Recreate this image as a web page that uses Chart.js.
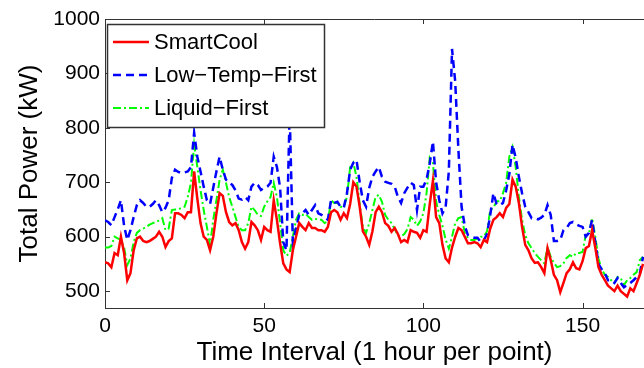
<!DOCTYPE html>
<html>
<head>
<meta charset="utf-8">
<script src="https://cdn.jsdelivr.net/npm/chart.js@4"></script>
<style>
  html, body { margin: 0; padding: 0; background: #fff; overflow: hidden; }
  #wrap { width: 644px; height: 368px; position: relative; }
</style>
</head>
<body>
<div id="wrap"><canvas id="power"></canvas></div>
<script>
// Valores (1 ponto por hora)
const seriesNames = ['SmartCool', 'Low\u2212Temp\u2212First', 'Liquid\u2212First'];

const smartCool = [
  553, 551, 544, 570, 566, 600, 570, 520, 533, 575, 597, 600, 592, 590, 592, 596, 600, 609, 600, 581,
  592, 597, 643, 643, 640, 634, 645, 645, 720, 670, 625, 600, 594, 575, 600, 643, 680, 675, 645, 627,
  621, 625, 612, 590, 578, 590, 627, 621, 612, 594, 618, 612, 609, 667, 631, 588, 551, 540, 535, 575,
  600, 625, 618, 612, 625, 616, 616, 612, 612, 609, 618, 645, 649, 645, 631, 643, 634, 660, 700, 692,
  655, 610, 600, 585, 610, 645, 655, 645, 625, 620, 609, 616, 605, 590, 594, 590, 612, 609, 607, 598,
  612, 609, 660, 703, 636, 625, 585, 560, 553, 580, 600, 616, 612, 600, 588, 588, 590, 588, 581, 594,
  590, 615, 631, 636, 643, 636, 653, 660, 705, 692, 662, 618, 585, 575, 560, 552, 553, 544, 533, 579,
  557, 530, 520, 498, 515, 533, 540, 553, 542, 540, 555, 579, 583, 612, 580, 544, 530, 520, 510, 505,
  500, 510, 500, 495, 490, 505, 500, 515, 530, 550
];

const lowTempFirst = [
  630, 627, 621, 636, 650, 667, 620, 594, 612, 636, 658, 667, 662, 655, 655, 660, 667, 658, 645, 653,
  667, 708, 723, 719, 717, 718, 720, 728, 791, 747, 720, 692, 667, 660, 690, 720, 747, 723, 705, 699,
  695, 685, 670, 668, 673, 667, 692, 699, 695, 686, 690, 692, 699, 747, 728, 690, 590, 575, 830, 590,
  615, 640, 643, 649, 640, 649, 658, 643, 640, 636, 631, 667, 662, 664, 655, 653, 680, 723, 736, 741,
  700, 667, 655, 690, 710, 720, 728, 710, 701, 699, 697, 692, 673, 662, 680, 690, 699, 695, 649, 692,
  692, 705, 735, 775, 700, 667, 643, 655, 720, 945, 885, 760, 655, 620, 603, 600, 598, 598, 590, 594,
  605, 640, 680, 660, 658, 662, 685, 715, 769, 745, 710, 680, 655, 645, 634, 634, 632, 635, 640, 658,
  640, 592, 592, 594, 612, 616, 625, 627, 623, 620, 618, 600, 607, 631, 590, 550, 540, 533, 520, 520,
  515, 524, 515, 507, 511, 515, 520, 526, 533, 563
];

const liquidFirst = [
  580, 580, 583, 600, 597, 594, 580, 548, 560, 590, 607, 612, 615, 618, 622, 625, 627, 630, 634, 612,
  615, 649, 650, 650, 653, 655, 673, 699, 770, 728, 686, 649, 618, 585, 631, 667, 705, 723, 699, 673,
  655, 636, 618, 612, 612, 625, 655, 649, 640, 638, 655, 665, 673, 699, 673, 625, 575, 565, 570, 600,
  631, 643, 640, 642, 636, 631, 633, 631, 631, 625, 628, 667, 662, 662, 655, 655, 673, 728, 736, 710,
  660, 618, 607, 625, 649, 673, 677, 664, 640, 631, 625, 614, 602, 600, 605, 614, 636, 631, 620, 628,
  643, 680, 745, 735, 665, 640, 620, 595, 578, 600, 625, 634, 636, 607, 597, 594, 594, 597, 600, 600,
  610, 649, 653, 665, 665, 680, 699, 747, 765, 728, 673, 631, 603, 588, 579, 570, 563, 557, 551, 581,
  563, 552, 544, 546, 551, 561, 566, 563, 570, 570, 572, 603, 605, 634, 600, 560, 540, 530, 526, 520,
  515, 526, 524, 511, 520, 524, 530, 535, 557, 563
];

const timeTicks = [0, 50, 100, 150];
const powerTicks = [500, 600, 700, 800, 900, 1000];

const FONT = "'Liberation Sans', Arial, sans-serif";
const AXIS_COLOR = '#333';

const toPoints = (arr) => arr.map((v, i) => ({ x: i, y: v }));

// Caixa (topo) e marcas internas dos eixos, estilo MATLAB
const boxPlugin = {
    id: 'box',
    afterDatasetsDraw: (chart) => {
        const { ctx, chartArea, scales } = chart;
        ctx.save();
        ctx.strokeStyle = AXIS_COLOR;
        ctx.lineWidth = 1;
        ctx.beginPath();
        ctx.moveTo(chartArea.left, chartArea.top + 0.5);
        ctx.lineTo(chartArea.right, chartArea.top + 0.5);
        timeTicks.forEach(t => {
            const px = Math.round(scales.x.getPixelForValue(t)) + 0.5;
            ctx.moveTo(px, chartArea.bottom);
            ctx.lineTo(px, chartArea.bottom - 5);
            ctx.moveTo(px, chartArea.top);
            ctx.lineTo(px, chartArea.top + 5);
        });
        powerTicks.forEach(p => {
            const py = Math.round(scales.y.getPixelForValue(p)) + 0.5;
            ctx.moveTo(chartArea.left, py);
            ctx.lineTo(chartArea.left + 5, py);
        });
        ctx.stroke();
        ctx.restore();
    }
};

// Legenda dentro do gráfico, com fundo branco e borda
const legendPlugin = {
    id: 'boxLegend',
    afterDraw: (chart) => {
        const { ctx } = chart;
        const x = 107, y = 24, w = 217, h = 103;
        ctx.save();
        ctx.fillStyle = '#fff';
        ctx.fillRect(x, y, w, h);
        ctx.strokeStyle = AXIS_COLOR;
        ctx.lineWidth = 1.5;
        ctx.strokeRect(x + 0.5, y + 0.5, w, h);

        ctx.font = `22px ${FONT}`;
        ctx.textBaseline = 'middle';
        chart.data.datasets.forEach((ds, i) => {
            const cy = y + 18 + i * 33;
            ctx.beginPath();
            ctx.strokeStyle = ds.borderColor;
            ctx.lineWidth = ds.borderWidth;
            ctx.setLineDash(ds.borderDash || []);
            ctx.moveTo(x + 6, cy);
            ctx.lineTo(x + 42, cy);
            ctx.stroke();
            ctx.setLineDash([]);
            ctx.fillStyle = '#000';
            ctx.fillText(ds.label, x + 47, cy + 1);
        });
        ctx.restore();
    }
};

new Chart(document.getElementById('power'), {
    type: 'line',
    plugins: [boxPlugin, legendPlugin],
    data: {
        datasets: [
            {
                label: seriesNames[0],
                data: toPoints(smartCool),
                borderColor: '#ff0000',
                borderWidth: 2.5
            },
            {
                label: seriesNames[1],
                data: toPoints(lowTempFirst),
                borderColor: '#0000ff',
                borderWidth: 2.5,
                borderDash: [8, 5]
            },
            {
                label: seriesNames[2],
                data: toPoints(liquidFirst),
                borderColor: '#00ff00',
                borderWidth: 2,
                borderDash: [8, 3, 2, 3]
            }
        ]
    },
    options: {
        responsive: true,
        maintainAspectRatio: false,
        animation: false,
        layout: { padding: { top: 19, right: 0, left: 0, bottom: 0 } },
        elements: {
            point: { radius: 0 },
            line: { tension: 0, fill: false }
        },
        plugins: {
            legend: { display: false },
            tooltip: { enabled: false }
        },
        scales: {
            x: {
                type: 'linear',
                min: 0,
                max: 169.3,
                afterBuildTicks: (axis) => { axis.ticks = timeTicks.map(v => ({ value: v })); },
                afterFit: (axis) => { axis.height = 60; },
                grid: { drawOnChartArea: false, drawTicks: false },
                border: { color: AXIS_COLOR, width: 1 },
                ticks: {
                    color: '#000',
                    padding: 6,
                    maxRotation: 0,
                    callback: (value) => String(value),
                    font: { family: FONT, size: 21 }
                },
                title: {
                    display: true,
                    text: 'Time Interval (1 hour per point)',
                    color: '#000',
                    padding: { top: 0, bottom: 0 },
                    font: { family: FONT, size: 26 }
                }
            },
            y: {
                min: 469,
                max: 1000,
                afterBuildTicks: (axis) => { axis.ticks = powerTicks.map(v => ({ value: v })); },
                afterFit: (axis) => { axis.width = 105; },
                grid: { drawOnChartArea: false, drawTicks: false },
                border: { color: AXIS_COLOR, width: 1 },
                ticks: {
                    color: '#000',
                    padding: 5,
                    callback: (value) => String(value),
                    font: { family: FONT, size: 21 }
                },
                title: {
                    display: true,
                    text: 'Total Power (kW)',
                    color: '#000',
                    padding: { top: 14, bottom: 0 },
                    font: { family: FONT, size: 26 }
                }
            }
        }
    }
});
</script>
</body>
</html>
